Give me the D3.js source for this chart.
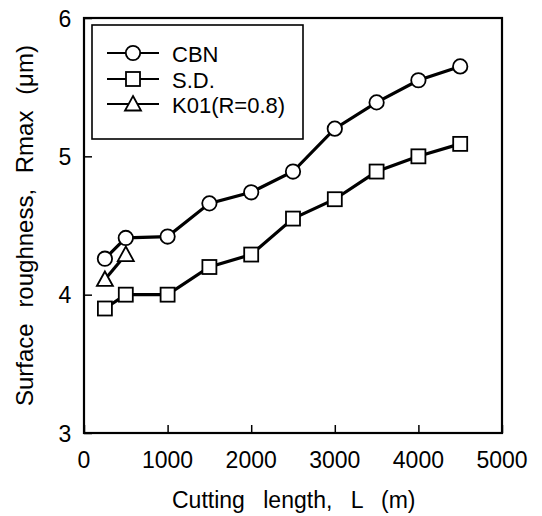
<!DOCTYPE html>
<html>
<head>
<meta charset="utf-8">
<script src="https://cdn.jsdelivr.net/npm/d3@7"></script>
<style>
  body { margin: 0; background: #fff; }
  text { font-family: "Liberation Sans", Arial, sans-serif; fill: #000; }
</style>
</head>
<body>
<div id="chart"></div>
<script>
// Data
let lengths = [250, 500, 1000, 1500, 2000, 2500, 3000, 3500, 4000, 4500];
let cbn = [4.26, 4.41, 4.42, 4.66, 4.74, 4.89, 5.20, 5.39, 5.55, 5.65];
let sd = [3.90, 4.00, 4.00, 4.20, 4.29, 4.55, 4.69, 4.89, 5.00, 5.09];
let k01Lengths = [250, 500];
let k01 = [4.11, 4.29];
let xTicks = [0, 1000, 2000, 3000, 4000, 5000];
let yTicks = [3, 4, 5, 6];
let seriesNames = ["CBN", "S.D.", "K01(R=0.8)"];

let width = 542, height = 516;
let plotLeft = 84, plotRight = 502, plotTop = 18, plotBottom = 433;

let svg = d3.select("#chart")
  .append("svg")
  .attr("width", width)
  .attr("height", height);

let x = d3.scaleLinear().domain([0, 5000]).range([plotLeft, plotRight]);
let y = d3.scaleLinear().domain([3, 6]).range([plotBottom, plotTop]);

// frame
svg.append("rect")
  .attr("x", plotLeft).attr("y", plotTop)
  .attr("width", plotRight - plotLeft).attr("height", plotBottom - plotTop)
  .attr("fill", "none").attr("stroke", "#000").attr("stroke-width", 2.2);

// inward ticks, labels drawn separately
let xAxis = d3.axisBottom(x).tickValues(xTicks).tickSize(-8).tickFormat("");
svg.append("g").attr("transform", `translate(0,${plotBottom})`).call(xAxis)
  .call(g => g.select(".domain").remove())
  .call(g => g.selectAll("line").attr("stroke-width", 1.5));

let yAxis = d3.axisLeft(y).tickValues(yTicks).tickSize(-8).tickFormat("");
svg.append("g").attr("transform", `translate(${plotLeft},0)`).call(yAxis)
  .call(g => g.select(".domain").remove())
  .call(g => g.selectAll("line").attr("stroke-width", 1.5));

svg.selectAll(".xlab")
  .data(xTicks)
  .enter()
  .append("text")
  .attr("x", d => x(d))
  .attr("y", 468)
  .attr("text-anchor", "middle")
  .attr("font-size", 23)
  .text(d => d);

svg.selectAll(".ylab")
  .data(yTicks)
  .enter()
  .append("text")
  .attr("x", 65)
  .attr("y", d => y(d) + 8.5)
  .attr("text-anchor", "middle")
  .attr("font-size", 23)
  .text(d => d);

svg.append("text")
  .attr("x", 172)
  .attr("y", 508)
  .attr("font-size", 23)
  .attr("word-spacing", 12)
  .text("Cutting length, L (m)");

svg.append("text")
  .attr("transform", "translate(33,406) rotate(-90)")
  .attr("font-size", 24)
  .attr("word-spacing", 9)
  .text("Surface roughness, Rmax (\u03bcm)");

let line = d3.line().x(d => x(d[0])).y(d => y(d[1]));

function drawMarker(sel, shape) {
  if (shape === "circle") {
    sel.append("circle").attr("r", 7.2);
  } else if (shape === "square") {
    sel.append("rect").attr("x", -7).attr("y", -7).attr("width", 14).attr("height", 14);
  } else {
    sel.append("path").attr("d", "M0,-8L8,6.5L-8,6.5Z");
  }
  sel.selectAll("circle,rect,path")
    .attr("fill", "#fff").attr("stroke", "#000").attr("stroke-width", 1.8);
}

let series = [
  { xs: lengths, ys: cbn, shape: "circle" },
  { xs: lengths, ys: sd, shape: "square" },
  { xs: k01Lengths, ys: k01, shape: "triangle" }
];

series.forEach(s => {
  let pts = s.xs.map((v, i) => [v, s.ys[i]]);
  svg.append("path")
    .attr("d", line(pts))
    .attr("fill", "none")
    .attr("stroke", "#000")
    .attr("stroke-width", 3.2);
  svg.selectAll(null)
    .data(pts)
    .enter()
    .append("g")
    .attr("transform", d => `translate(${x(d[0])},${y(d[1])})`)
    .each(function() { drawMarker(d3.select(this), s.shape); });
});

// legend
let legend = svg.append("g");
legend.append("rect")
  .attr("x", 92).attr("y", 25)
  .attr("width", 211).attr("height", 114)
  .attr("fill", "#fff").attr("stroke", "#000").attr("stroke-width", 1.6);

let legendY = [53, 79, 104];
series.forEach((s, i) => {
  legend.append("line")
    .attr("x1", 107).attr("x2", 159)
    .attr("y1", legendY[i]).attr("y2", legendY[i])
    .attr("stroke", "#000").attr("stroke-width", 2);
  let g = legend.append("g").attr("transform", `translate(133,${legendY[i]})`);
  drawMarker(g, s.shape);
  legend.append("text")
    .attr("x", 172)
    .attr("y", legendY[i] + 8.5)
    .attr("font-size", 22)
    .text(seriesNames[i]);
});
</script>
</body>
</html>
